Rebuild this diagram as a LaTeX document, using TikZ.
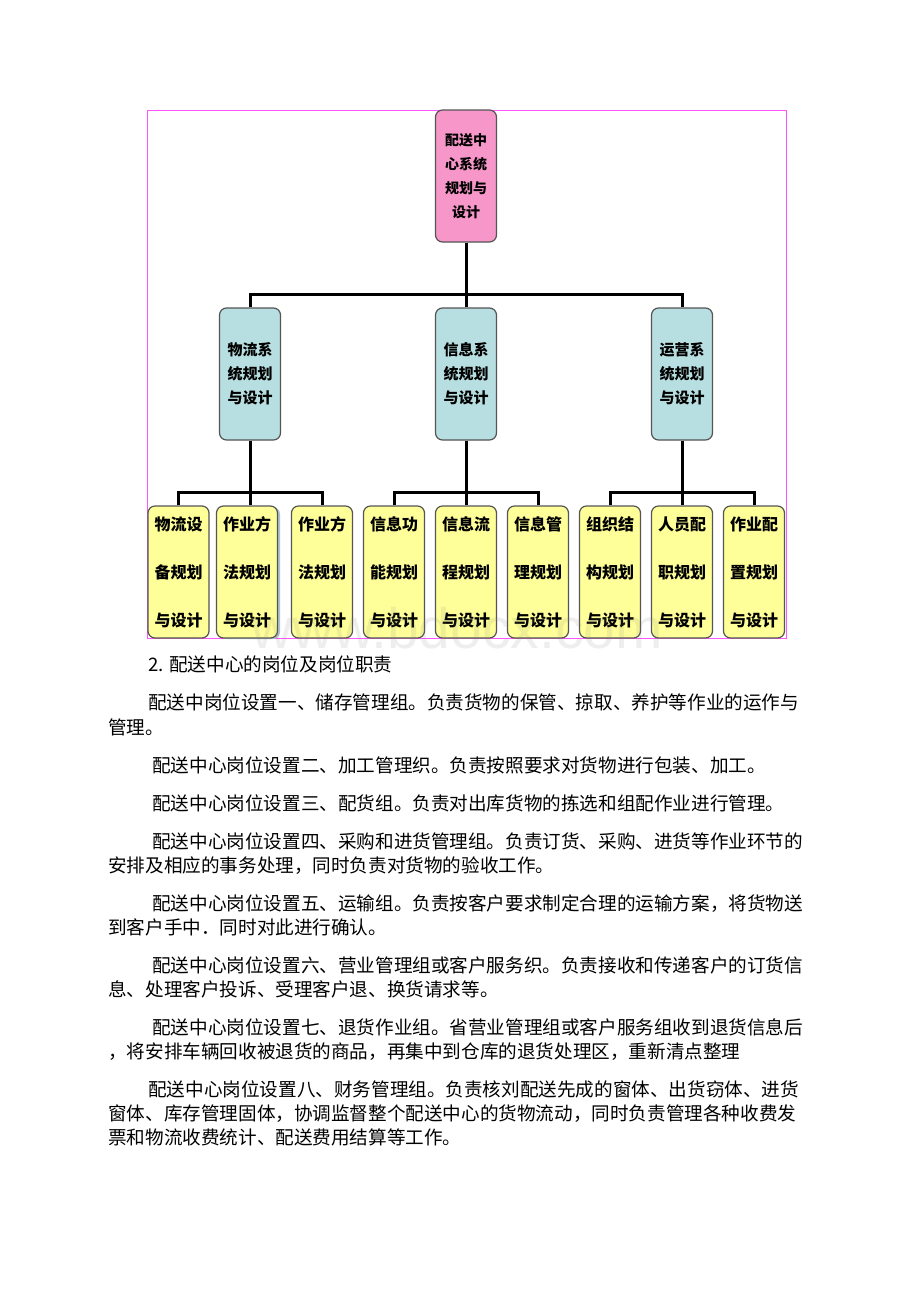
\documentclass[tikz,border=0pt]{standalone}
\usepackage{fontspec}
\newfontfamily\cjk{Noto Sans CJK SC}
\newfontfamily\wmfont{Liberation Sans}
\definecolor{rootpink}{HTML}{F797C9}
\definecolor{midblue}{HTML}{B7DEE0}
\definecolor{leafyellow}{HTML}{FFFF99}
\definecolor{framemag}{HTML}{FF55FF}
\definecolor{boxline}{HTML}{555555}
\begin{document}
\begin{tikzpicture}[x=1pt,y=-1pt,
  box/.style={draw=boxline, line width=1.2pt, rounded corners=7pt, minimum width=61pt, minimum height=132pt, align=center, inner sep=0pt},
  rootbox/.style={box, fill=rootpink, font=\cjk\bfseries\fontsize{14}{24}\selectfont},
  midbox/.style={box, fill=midblue, font=\cjk\bfseries\fontsize{15}{24}\selectfont},
  leafbox/.style={box, fill=leafyellow, font=\cjk\bfseries\fontsize{16}{48}\selectfont},
  conn/.style={line width=3pt, black, line join=miter},
  body/.style={anchor=base west, inner sep=0pt, font=\cjk\fontsize{18.6}{20}\selectfont}
]
\useasboundingbox (0,0) rectangle (920,1302);
\fill[white] (0,0) rectangle (920,1302);

% frame
\draw[framemag, line width=0.8pt] (147,110) rectangle (786,638);

% root and middle level
\node[rootbox] (root) at (466,176) {配送中\\心系统\\规划与\\设计};
\node[midbox] (m1) at (250,374) {物流系\\统规划\\与设计};
\node[midbox] (m2) at (466,374) {信息系\\统规划\\与设计};
\node[midbox] (m3) at (682,374) {运营系\\统规划\\与设计};

% leaves
\fill[rounded corners=7pt, fill=gray!70!cyan!60] (219.5,507) rectangle (280,639);
\node[leafbox] (l1) at (178.5,572) {物流设\\备规划\\与设计};
\node[leafbox] (l2) at (247,572) {作业方\\法规划\\与设计};
\node[leafbox] (l3) at (322,572) {作业方\\法规划\\与设计};
\node[leafbox] (l4) at (394,572) {信息功\\能规划\\与设计};
\node[leafbox] (l5) at (466,572) {信息流\\程规划\\与设计};
\node[leafbox] (l6) at (538,572) {信息管\\理规划\\与设计};
\node[leafbox] (l7) at (610,572) {组织结\\构规划\\与设计};
\node[leafbox] (l8) at (682,572) {人员配\\职规划\\与设计};
\node[leafbox] (l9) at (754,572) {作业配\\置规划\\与设计};

% connectors
\coordinate (j0) at (466,294);
\draw[conn] (root.south) -- (j0);
\draw[conn] (m1.north) |- (j0) -| (m3.north);
\draw[conn] (j0) -- (m2.north);

\coordinate (j1) at (250,492);
\coordinate (j2) at (466,492);
\coordinate (j3) at (682,492);
\draw[conn] (m1.south) -- (j1);
\draw[conn] (m2.south) -- (j2);
\draw[conn] (m3.south) -- (j3);
\draw[conn] (l1.north) |- (j1) -| (l3.north);
\draw[conn] (j1) -- (j1 |- l2.north);
\draw[conn] (l4.north) |- (j2) -| (l6.north);
\draw[conn] (j2) -- (l5.north);
\draw[conn] (l7.north) |- (j3) -| (l9.north);
\draw[conn] (j3) -- (l8.north);

% watermark
\node[anchor=base, inner sep=0pt, text=gray, opacity=0.13, font=\wmfont\fontsize{57}{60}\selectfont] (wm) at (457,648) {www.bdocx.com};

% body text
\node[body] (t0) at (148,671) {2. 配送中心的岗位及岗位职责};
\node[body] (t1) at (148,709) {配送中岗位设置一、储存管理组。负责货物的保管、掠取、养护等作业的运作与};
\node[body] (t2) at (108,734) {管理。};
\node[body] (t3) at (152,772) {配送中心岗位设置二、加工管理织。负责按照要求对货物进行包装、加工。};
\node[body] (t4) at (152,810) {配送中心岗位设置三、配货组。负责对出库货物的拣选和组配作业进行管理。};
\node[body] (t5) at (152,848) {配送中心岗位设置四、采购和进货管理组。负责订货、采购、进货等作业环节的};
\node[body] (t6) at (108,872) {安排及相应的事务处理，同时负责对货物的验收工作。};
\node[body] (t7) at (152,910) {配送中心岗位设置五、运输组。负责按客户要求制定合理的运输方案，将货物送};
\node[body] (t8) at (108,934) {到客户手中．同时对此进行确认。};
\node[body] (t9) at (152,972) {配送中心岗位设置六、营业管理组或客户服务织。负责接收和传递客户的订货信};
\node[body] (t10) at (108,996) {息、处理客户投诉、受理客户退、换货请求等。};
\node[body] (t11) at (152,1034) {配送中心岗位设置七、退货作业组。省营业管理组或客户服务组收到退货信息后};
\node[body] (t12) at (108,1058) {，将安排车辆回收被退货的商品，再集中到仓库的退货处理区，重新清点整理};
\node[body] (t13) at (148,1096) {配送中心岗位设置八、财务管理组。负责核刘配送先成的窗体、出货窃体、进货};
\node[body] (t14) at (108,1120) {窗体、库存管理固体，协调监督整个配送中心的货物流动，同时负责管理各种收费发};
\node[body] (t15) at (108,1144) {票和物流收费统计、配送费用结算等工作。};
\end{tikzpicture}
\end{document}
